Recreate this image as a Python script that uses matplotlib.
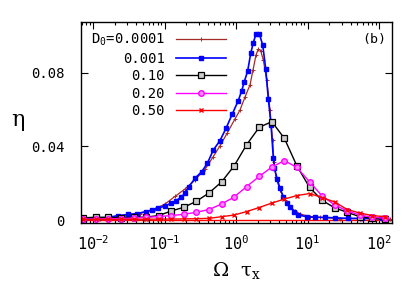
import numpy as np
import matplotlib
matplotlib.use("Agg")
from matplotlib import pyplot as plt
from matplotlib.ticker import LogLocator, NullFormatter, FixedLocator

plt.rcParams['font.family'] = ['DejaVu Sans Mono']
plt.rcParams['mathtext.fontset'] = 'dejavuserif'

# D0 = 0.0001 (dense curve, small + marks)
om_a = [0.00679, 0.01253, 0.0239, 0.0454, 0.0736, 0.1016, 0.140, 0.194, 0.267, 0.368,
        0.477, 0.597, 0.748, 0.968, 1.137, 1.336, 1.570, 1.729, 1.905, 2.05, 2.21, 2.41,
        2.69, 2.99, 3.24, 3.40, 3.62, 4.12, 4.84, 5.69, 6.68, 7.85, 10.8, 15.0, 28.5,
        54.2, 143]
eta_a = [0.0003, 0.0007, 0.0016, 0.0035, 0.0060, 0.0087, 0.0128, 0.0169, 0.0218, 0.0275,
         0.0343, 0.0403, 0.0471, 0.0550, 0.0598, 0.0669, 0.0735, 0.0816, 0.0898, 0.0929,
         0.0921, 0.0870, 0.0762, 0.0598, 0.0435, 0.0316, 0.0234, 0.0163, 0.0109, 0.0073,
         0.0049, 0.0033, 0.0019, 0.0014, 0.0008, 0.0007, 0.0005]

# D0 = 0.001
om_b = [0.00748, 0.01138, 0.0162, 0.0224, 0.0309, 0.0412, 0.0551, 0.0668, 0.0811, 0.1016,
        0.1233, 0.1449, 0.1702, 0.1936, 0.2168, 0.2673, 0.3314, 0.397, 0.482, 0.597,
        0.725, 0.888, 1.077, 1.201, 1.306, 1.458, 1.606, 1.746, 1.905, 2.118, 2.363,
        2.60, 2.83, 3.09, 3.33, 3.45, 3.78, 4.12, 4.59, 5.12, 5.69, 6.54, 7.43, 9.75,
        12.7, 17.6, 24.3, 36.8, 57.8, 79.8, 110]
eta_b = [0.0008, 0.0011, 0.0014, 0.0024, 0.0030, 0.0035, 0.0046, 0.0054, 0.0065, 0.0076,
         0.0091, 0.0105, 0.0124, 0.0145, 0.0178, 0.0227, 0.0263, 0.0308, 0.0381, 0.0432,
         0.0499, 0.0577, 0.0650, 0.0703, 0.0752, 0.0812, 0.0907, 0.0965, 0.1012, 0.1012,
         0.0952, 0.0823, 0.0660, 0.0517, 0.0335, 0.0281, 0.0221, 0.0172, 0.0127, 0.0091,
         0.0072, 0.0045, 0.0027, 0.0018, 0.0015, 0.0014, 0.0012, 0.0009, 0.0009, 0.0009,
         0.0009]

# common grid for D0 = 0.10, 0.20, 0.50
om_c = [0.00731, 0.01096, 0.01644, 0.0246, 0.0369, 0.0553, 0.0829, 0.124, 0.186, 0.279,
        0.419, 0.628, 0.940, 1.41, 2.11, 3.17, 4.75, 7.11, 10.7, 16.0, 24.0, 35.9, 53.8,
        80.7, 121]
eta_c = [0.0012, 0.0015, 0.0014, 0.0013, 0.0014, 0.0016, 0.0024, 0.0049, 0.0069, 0.0102,
         0.0147, 0.0207, 0.0294, 0.0410, 0.0504, 0.0535, 0.0444, 0.0294, 0.0177, 0.0107,
         0.0066, 0.0042, 0.0018, 0.0009, 0.0005]
eta_d = [0.0005, 0.0005, 0.0007, 0.0008, 0.0011, 0.0014, 0.0019, 0.0024, 0.0031, 0.0042,
         0.0057, 0.0087, 0.0125, 0.0182, 0.0237, 0.0288, 0.0323, 0.0286, 0.0207, 0.0131,
         0.0082, 0.0049, 0.0027, 0.0015, 0.0009]
eta_e = [0.0003, 0.0003, 0.0003, 0.0003, 0.0004, 0.0004, 0.0005, 0.0005, 0.0006, 0.0007,
         0.0009, 0.0018, 0.0027, 0.0046, 0.0068, 0.0092, 0.0114, 0.0133, 0.0144, 0.0122,
         0.0098, 0.0057, 0.0038, 0.0024, 0.0018]

labels = [r'D$_\mathregular{0}$=0.0001', '0.001', '0.10', '0.20', '0.50']

fig = plt.figure(figsize=(4.07, 2.88), dpi=100)
ax = fig.add_axes([81 / 407, 65 / 288, 311 / 407, 201 / 288])

ax.axhline(0, color='red', lw=1.0)
ax.plot(om_a, eta_a, color='#a52a2a', lw=0.9, marker='+', ms=3, mew=0.7, label=labels[0])
ax.plot(om_b, eta_b, color='blue', lw=1.2, marker='s', ms=3.0, label=labels[1])
ax.plot(om_c, eta_c, color='black', lw=1.0, marker='s', ms=4, mfc='#cccccc', mec='black',
        mew=0.9, label=labels[2])
ax.plot(om_c, eta_d, color='magenta', lw=1.0, marker='o', ms=4, mfc='#ff88ff',
        mec='magenta', label=labels[3])
ax.plot(om_c, eta_e, color='red', lw=1.0, marker='x', ms=3.5, mew=1.0, label=labels[4])

ax.set_xscale('log')
ax.set_xlim(0.00679, 152)
ax.set_ylim(-0.00163, 0.1077)
ax.set_yticks([0, 0.04, 0.08])
ax.set_yticklabels(['0', '0.04', '0.08'])
ax.xaxis.set_major_locator(FixedLocator([0.01, 0.1, 1, 10, 100]))
ax.set_xticklabels([r'$\mathdefault{10^{-2}}$', r'$\mathdefault{10^{-1}}$',
                    r'$\mathdefault{10^{0}}$', r'$\mathdefault{10^{1}}$',
                    r'$\mathdefault{10^{2}}$'])
ax.xaxis.set_minor_locator(LogLocator(base=10, subs=np.arange(2, 10), numticks=20))
ax.xaxis.set_minor_formatter(NullFormatter())
ax.tick_params(which='both', direction='in', top=True, right=True, labelsize=10,
               color='black', width=0.8)
ax.tick_params(which='major', length=5)
ax.tick_params(which='minor', length=2.5)
ax.tick_params(axis='x', which='major', labelsize=11, pad=8)
ax.tick_params(axis='y', which='major', pad=12)
for s in ax.spines.values():
    s.set_linewidth(1.0)

ax.set_xlabel(r'$\mathrm{\Omega}\ \ \mathrm{\tau}_\mathrm{x}$', fontsize=14, labelpad=5)
ax.set_ylabel(r'$\mathrm{\eta}$', fontsize=16, labelpad=9, rotation=0, va='center')
ax.text(0.98, 0.915, '(b)', transform=ax.transAxes, ha='right', va='center', fontsize=9.5)

ax.legend(loc='upper right', bbox_to_anchor=(226 / 407, 1 - 32 / 288),
          bbox_transform=fig.transFigure, frameon=False, markerfirst=False,
          numpoints=1, handlelength=3.6, handletextpad=0.8, labelspacing=0.25,
          borderpad=0, borderaxespad=0, fontsize=10)

fig.savefig('out.png', dpi=100)
